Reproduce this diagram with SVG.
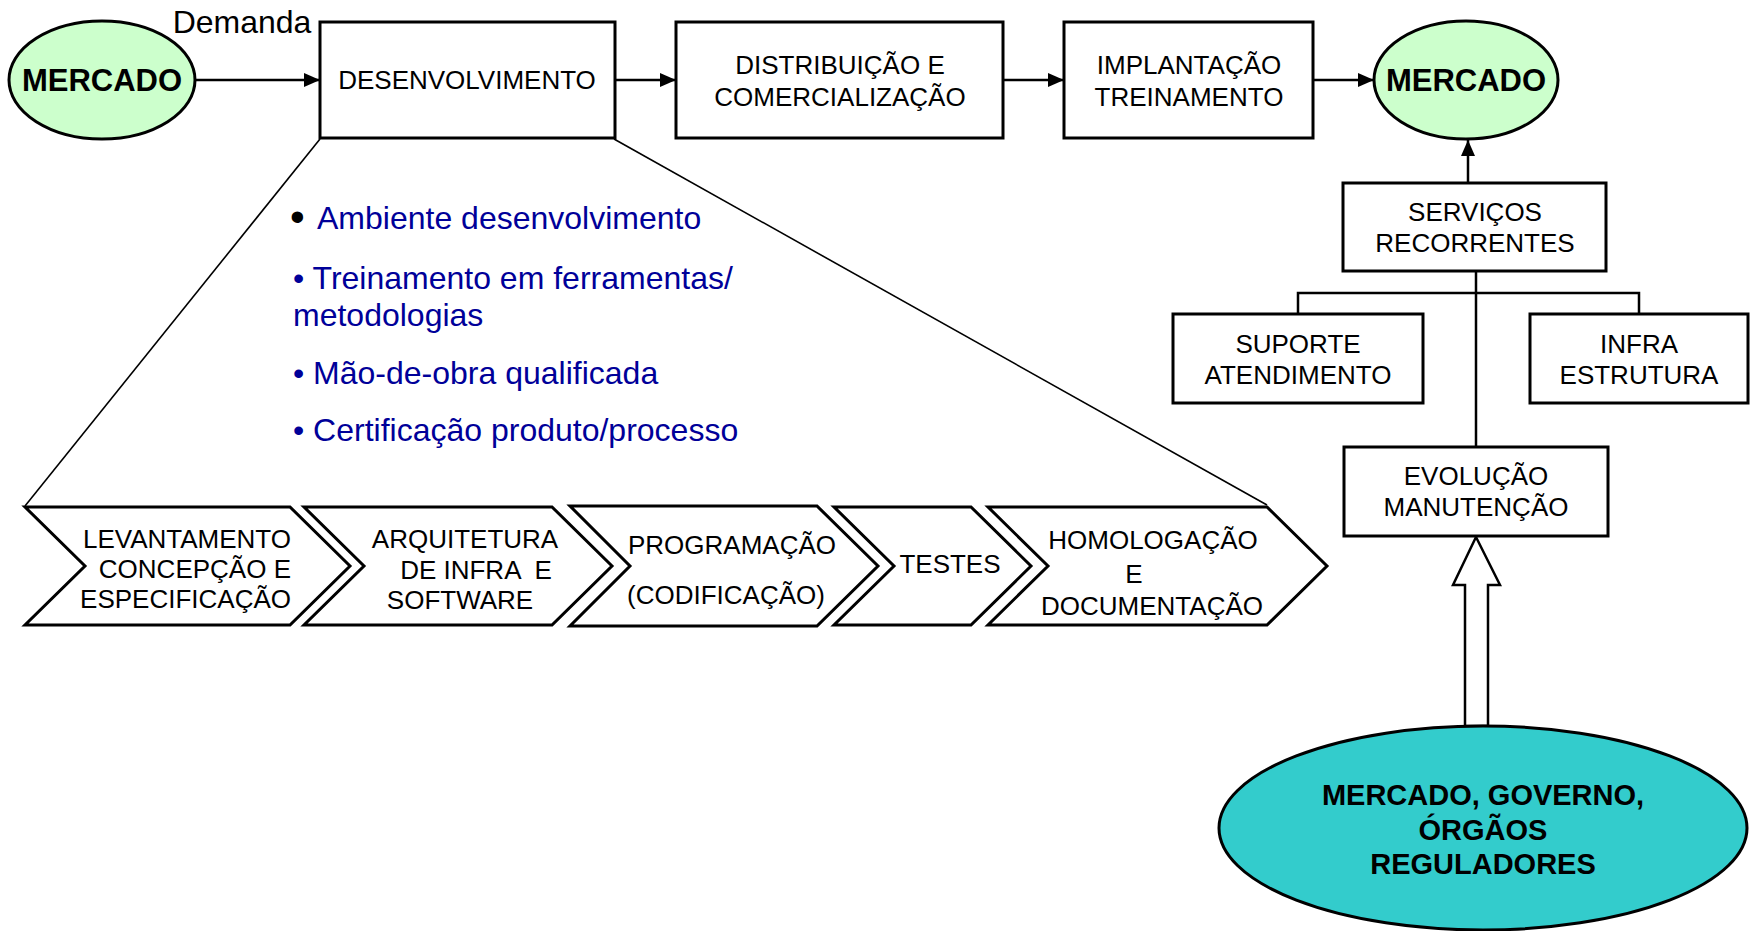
<svg xmlns="http://www.w3.org/2000/svg" width="1755" height="931" viewBox="0 0 1755 931">
<defs>
<style>
.box{fill:#fff;stroke:#000;stroke-width:3}
.chev{fill:#fff;stroke:#000;stroke-width:3;stroke-linejoin:miter}
.green{fill:#CCFFCC;stroke:#000;stroke-width:3}
.teal{fill:#33CCCC;stroke:#000;stroke-width:3}
.t{font-family:"Liberation Sans",Arial,sans-serif;font-size:26px;fill:#000;text-anchor:middle}
.tb{font-family:"Liberation Sans",Arial,sans-serif;font-weight:bold;fill:#000;text-anchor:middle}
.blue{font-family:"Liberation Sans",Arial,sans-serif;font-size:32px;fill:#000099}
.line{fill:none;stroke:#000;stroke-width:2.5}
.thin{fill:none;stroke:#000;stroke-width:1.6}
</style>
<marker id="ah" viewBox="0 0 16 14" refX="16" refY="7" markerWidth="16" markerHeight="14" markerUnits="userSpaceOnUse" orient="auto">
<path d="M0,0 L16,7 L0,14 Z" fill="#000"/>
</marker>
</defs>

<g id="connectors">
<line class="line" x1="195" y1="80" x2="320" y2="80" marker-end="url(#ah)"/>
<line class="line" x1="615" y1="80" x2="676" y2="80" marker-end="url(#ah)"/>
<line class="line" x1="1003" y1="80" x2="1064" y2="80" marker-end="url(#ah)"/>
<line class="line" x1="1313" y1="80" x2="1374" y2="80" marker-end="url(#ah)"/>
<line class="line" x1="1468" y1="183" x2="1468" y2="140" marker-end="url(#ah)"/>
<line class="line" x1="1476" y1="271" x2="1476" y2="447"/>
<polyline class="line" points="1298,314 1298,293 1639,293 1639,314"/>
<line class="thin" x1="320" y1="139" x2="25" y2="506"/>
<line class="thin" x1="614" y1="139" x2="1267" y2="505"/>
<polygon points="1476,537 1500,585 1488,585 1488,726 1465,726 1465,585 1453,585" fill="#fff" stroke="#000" stroke-width="2.5"/>
</g>

<text x="242" y="33" class="t" style="font-size:32px">Demanda</text>

<g id="mercado-left">
<ellipse class="green" cx="102" cy="80" rx="93" ry="59"/>
<text x="102" y="91" class="tb" style="font-size:31px">MERCADO</text>
</g>

<g id="desenvolvimento">
<rect class="box" x="320" y="22" width="295" height="116"/>
<text x="467" y="89" class="t">DESENVOLVIMENTO</text>
</g>

<g id="distribuicao">
<rect class="box" x="676" y="22" width="327" height="116"/>
<text x="840" y="74" class="t">DISTRIBUIÇÃO E</text>
<text x="840" y="106" class="t">COMERCIALIZAÇÃO</text>
</g>

<g id="implantacao">
<rect class="box" x="1064" y="22" width="249" height="116"/>
<text x="1189" y="74" class="t">IMPLANTAÇÃO</text>
<text x="1189" y="106" class="t">TREINAMENTO</text>
</g>

<g id="mercado-right">
<ellipse class="green" cx="1466" cy="80" rx="92" ry="59"/>
<text x="1466" y="91" class="tb" style="font-size:31px">MERCADO</text>
</g>

<g id="servicos">
<rect class="box" x="1343" y="183" width="263" height="88"/>
<text x="1475" y="221" class="t">SERVIÇOS</text>
<text x="1475" y="252" class="t">RECORRENTES</text>
</g>

<g id="suporte">
<rect class="box" x="1173" y="314" width="250" height="89"/>
<text x="1298" y="353" class="t">SUPORTE</text>
<text x="1298" y="384" class="t">ATENDIMENTO</text>
</g>

<g id="infra">
<rect class="box" x="1530" y="314" width="218" height="89"/>
<text x="1639" y="353" class="t">INFRA</text>
<text x="1639" y="384" class="t">ESTRUTURA</text>
</g>

<g id="evolucao">
<rect class="box" x="1344" y="447" width="264" height="89"/>
<text x="1476" y="485" class="t">EVOLUÇÃO</text>
<text x="1476" y="516" class="t">MANUTENÇÃO</text>
</g>

<g id="mercado-governo">
<ellipse class="teal" cx="1483" cy="828" rx="264" ry="102"/>
<text x="1483" y="805" class="tb" style="font-size:29px">MERCADO, GOVERNO,</text>
<text x="1483" y="840" class="tb" style="font-size:29px">ÓRGÃOS</text>
<text x="1483" y="874" class="tb" style="font-size:29px">REGULADORES</text>
</g>

<g id="bullets">
<text x="290" y="231" style="font-family:'Liberation Sans',Arial,sans-serif;font-size:42px;fill:#000">•</text>
<text x="317" y="229" class="blue">Ambiente desenvolvimento</text>
<text x="293" y="289" class="blue">• Treinamento em ferramentas/</text>
<text x="293" y="326" class="blue">metodologias</text>
<text x="293" y="384" class="blue">• Mão-de-obra qualificada</text>
<text x="293" y="441" class="blue">• Certificação produto/processo</text>
</g>

<g id="levantamento">
<polygon class="chev" points="25,507 290,507 350,566 290,625 25,625 85,566"/>
<text x="291" y="548" class="t" style="text-anchor:end">LEVANTAMENTO</text>
<text x="291" y="578" class="t" style="text-anchor:end">CONCEPÇÃO E</text>
<text x="291" y="608" class="t" style="text-anchor:end">ESPECIFICAÇÃO</text>
</g>

<g id="arquitetura">
<polygon class="chev" points="304,507 552,507 612,566 552,625 304,625 364,566"/>
<text x="465" y="548" class="t">ARQUITETURA</text>
<text x="476" y="579" class="t" xml:space="preserve">DE INFRA  E</text>
<text x="460" y="609" class="t">SOFTWARE</text>
</g>

<g id="programacao">
<polygon class="chev" points="570,506 817,506 878,566 817,626 570,626 630,566"/>
<text x="732" y="554" class="t">PROGRAMAÇÃO</text>
<text x="726" y="604" class="t">(CODIFICAÇÃO)</text>
</g>

<g id="testes">
<polygon class="chev" points="834,507 971,507 1031,566 971,625 834,625 894,566"/>
<text x="950" y="573" class="t">TESTES</text>
</g>

<g id="homologacao">
<polygon class="chev" points="988,507 1267,507 1327,566 1267,625 988,625 1048,566"/>
<text x="1153" y="549" class="t">HOMOLOGAÇÃO</text>
<text x="1134" y="583" class="t">E</text>
<text x="1152" y="615" class="t">DOCUMENTAÇÃO</text>
</g>
</svg>
